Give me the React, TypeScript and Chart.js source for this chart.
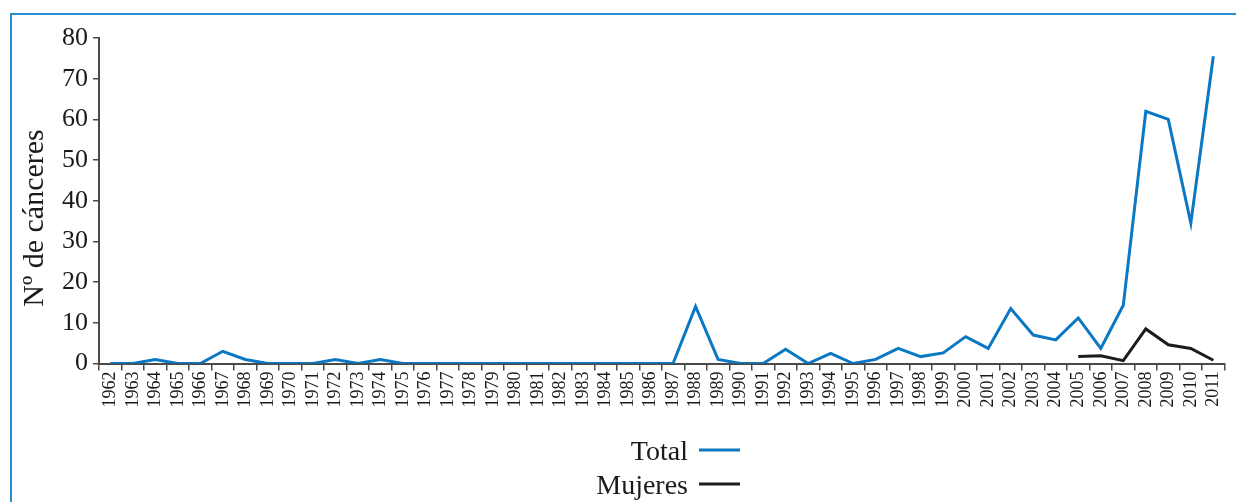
import React, { useEffect, useRef } from "react";
import { Chart, registerables } from "chart.js";

Chart.register(...registerables);

const years: string[] = [
  "1962","1963","1964","1965","1966","1967","1968","1969","1970","1971",
  "1972","1973","1974","1975","1976","1977","1978","1979","1980","1981",
  "1982","1983","1984","1985","1986","1987","1988","1989","1990","1991",
  "1992","1993","1994","1995","1996","1997","1998","1999","2000","2001",
  "2002","2003","2004","2005","2006","2007","2008","2009","2010","2011",
];

const totalValues: number[] = [
  0, 0, 1, 0, 0, 3, 1, 0, 0, 0,
  1, 0, 1, 0, 0, 0, 0, 0, 0, 0,
  0, 0, 0, 0, 0, 0, 14, 1, 0, 0,
  3.5, 0, 2.5, 0, 1, 3.7, 1.7, 2.6, 6.6, 3.7,
  13.5, 7, 5.8, 11.2, 3.7, 14.3, 62, 60, 34.5, 75.5,
];

const mujeresValues: (number | null)[] = [
  null, null, null, null, null, null, null, null, null, null,
  null, null, null, null, null, null, null, null, null, null,
  null, null, null, null, null, null, null, null, null, null,
  null, null, null, null, null, null, null, null, null, null,
  null, null, null, 1.7, 1.9, 0.7, 8.5, 4.6, 3.7, 0.8,
];

const yTicks: number[] = [0, 10, 20, 30, 40, 50, 60, 70, 80];

const seriesLabels: string[] = ["Total", "Mujeres"];
const seriesColors: string[] = ["#0a78c2", "#1c1c1c"];
const yTitle = "Nº de cánceres";

const SERIF = "'Liberation Serif', 'DejaVu Serif', serif";

if (typeof document !== "undefined") {
  document.body.style.margin = "0";
}

const overlayPlugin = {
  id: "overlay",
  afterDraw(chart: any) {
    const ctx = chart.ctx as CanvasRenderingContext2D;
    ctx.save();
    // y-axis title
    ctx.fillStyle = "#1a1a1a";
    ctx.font = `30px ${SERIF}`;
    ctx.translate(43, 218);
    ctx.rotate(-Math.PI / 2);
    ctx.textAlign = "center";
    ctx.textBaseline = "alphabetic";
    ctx.fillText(yTitle, 0, 0);
    ctx.restore();

    // legend
    ctx.save();
    ctx.font = `28px ${SERIF}`;
    ctx.textAlign = "right";
    ctx.textBaseline = "alphabetic";
    const rows = [450, 484];
    chart.data.datasets.forEach((ds: any, i: number) => {
      const y = rows[i];
      ctx.fillStyle = "#1a1a1a";
      ctx.fillText(ds.label, 688, y + 10);
      ctx.strokeStyle = ds.borderColor;
      ctx.lineWidth = 3;
      ctx.beginPath();
      ctx.moveTo(699, y);
      ctx.lineTo(740, y);
      ctx.stroke();
    });
    ctx.restore();
  },
};

export default function App() {
  const canvasRef = useRef<HTMLCanvasElement | null>(null);

  useEffect(() => {
    document.body.style.margin = "0";
    if (!canvasRef.current) return;
    const chart = new Chart(canvasRef.current, {
      type: "line",
      data: {
        labels: years,
        datasets: [
          {
            label: seriesLabels[0],
            data: totalValues,
            borderColor: seriesColors[0],
            backgroundColor: seriesColors[0],
            borderWidth: 3,
            pointRadius: 0,
            tension: 0,
          },
          {
            label: seriesLabels[1],
            data: mujeresValues,
            borderColor: seriesColors[1],
            backgroundColor: seriesColors[1],
            borderWidth: 3,
            pointRadius: 0,
            tension: 0,
            spanGaps: false,
          },
        ],
      },
      options: {
        animation: false,
        responsive: false,
        maintainAspectRatio: false,
        layout: { padding: { left: 0, top: 38, right: 7, bottom: 0 } },
        plugins: {
          legend: { display: false },
          tooltip: { enabled: false },
        },
        scales: {
          x: {
            type: "category",
            offset: true,
            grid: {
              offset: true,
              drawOnChartArea: false,
              drawTicks: true,
              tickLength: 7,
              color: "#4a4a4a",
              lineWidth: 1.5,
            },
            border: { display: true, color: "#4a4a4a", width: 2 },
            ticks: {
              autoSkip: false,
              maxRotation: 90,
              minRotation: 90,
              padding: 1,
              color: "#1a1a1a",
              font: { family: SERIF, size: 18 },
            },
            afterFit: (s: any) => {
              s.height = 502 - 363.5;
            },
          },
          y: {
            min: 0,
            max: 80,
            afterBuildTicks: (s: any) => {
              s.ticks = yTicks.map((v) => ({ value: v }));
            },
            grid: {
              drawOnChartArea: false,
              drawTicks: true,
              tickLength: 6,
              color: "#4a4a4a",
              lineWidth: 1.5,
            },
            border: { display: true, color: "#4a4a4a", width: 2 },
            ticks: {
              padding: 5,
              color: "#1a1a1a",
              font: { family: SERIF, size: 26 },
            },
            afterFit: (s: any) => {
              s.width = 99;
            },
          },
        },
      },
      plugins: [overlayPlugin],
    });
    return () => chart.destroy();
  }, []);

  return (
    <div style={{ position: "relative", width: 1236, height: 502, overflow: "hidden", background: "#fff" }}>
      <div
        style={{
          position: "absolute",
          left: 10,
          top: 13,
          width: 1240,
          height: 500,
          borderLeft: "2px solid #2a8bd0",
          borderTop: "2px solid #2a8bd0",
        }}
      />
      <canvas
        ref={canvasRef}
        width={1236}
        height={502}
        style={{ position: "absolute", left: 0, top: 0, width: 1236, height: 502 }}
      />
    </div>
  );
}
